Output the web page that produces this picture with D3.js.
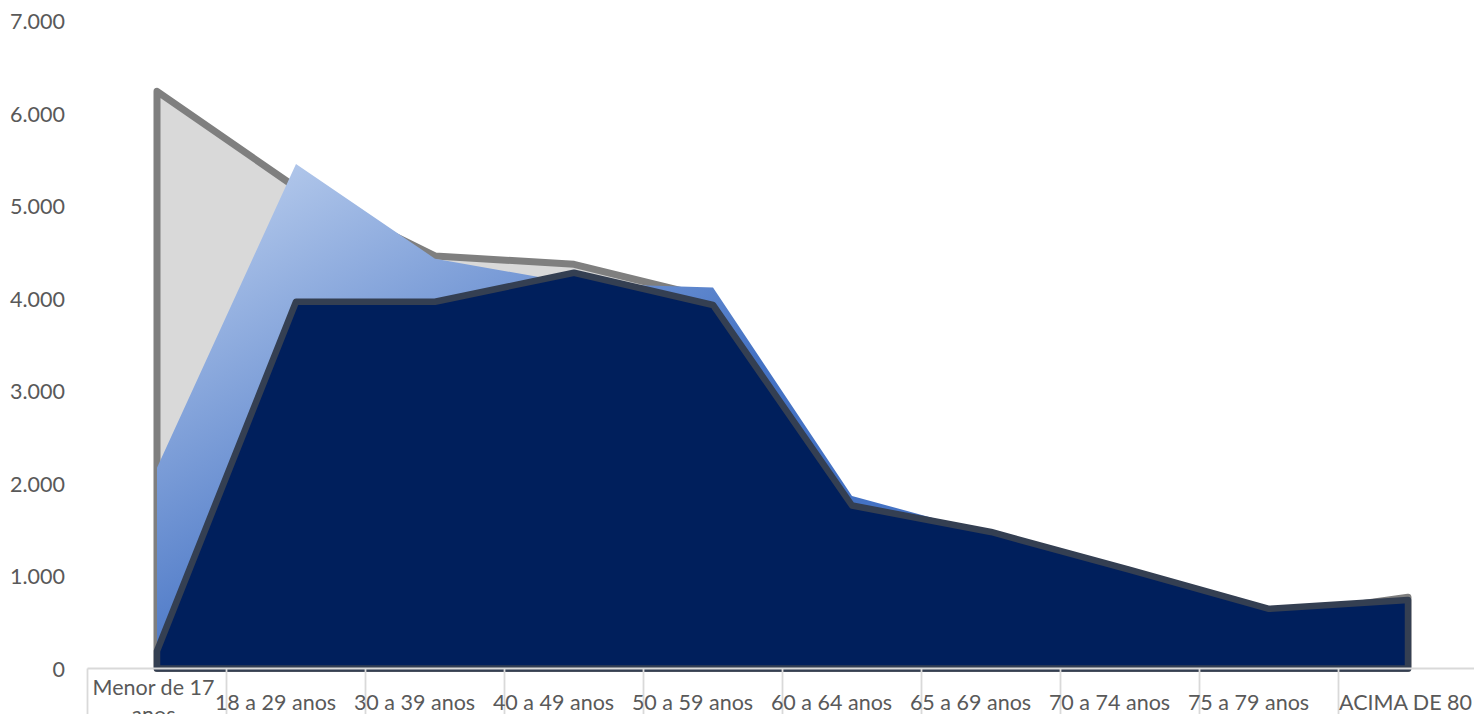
<!DOCTYPE html>
<html>
<head>
<meta charset="utf-8">
<script src="https://cdn.jsdelivr.net/npm/d3@7"></script>
<style>
  html, body { margin: 0; padding: 0; background: #fff; overflow: hidden; }
  svg { display: block; }
  text { font-family: Lato, "Open Sans", sans-serif; fill: #595959; }
</style>
</head>
<body>
<svg id="chart" width="1474" height="714"></svg>
<script>
// ---- data ----
const categories = ["Menor de 17 anos", "18 a 29 anos", "30 a 39 anos", "40 a 49 anos", "50 a 59 anos",
                    "60 a 64 anos", "65 a 69 anos", "70 a 74 anos", "75 a 79 anos", "ACIMA DE 80"];
const seriesGray = [6240, 5200, 4460, 4370, 4000, 1750, 1450, 1040, 560, 770];
const seriesBlue = [2170, 5455, 4430, 4165, 4118, 1866, 1455, 1040, 620, 700];
const seriesDark = [190, 3965, 3965, 4278, 3930, 1762, 1476, 1065, 645, 740];
const yTicks = [0, 1000, 2000, 3000, 4000, 5000, 6000, 7000];

// ---- layout ----
const W = 1474, H = 714;
const svg = d3.select("#chart");
const x = d3.scaleBand().domain(categories).range([87.5, 1477.5]).paddingInner(0).paddingOuter(0);
const y = d3.scaleLinear().domain([0, 7000]).range([668.5, 21]);
const cx = c => x(c) + x.bandwidth() / 2;

const fmt = d3.formatLocale({ decimal: ",", thousands: ".", grouping: [3], currency: ["", ""] }).format(",");

// gradient for blue series
const defs = svg.append("defs");
const grad = defs.append("linearGradient").attr("id", "blueGrad")
  .attr("gradientUnits", "userSpaceOnUse")
  .attr("x1", 297).attr("y1", 160).attr("x2", 297 + 0.5 * 400).attr("y2", 160 + 0.87 * 400);
grad.append("stop").attr("offset", 0).attr("stop-color", "#b0c6ea");
grad.append("stop").attr("offset", 1).attr("stop-color", "#4472c4");

const area = d3.area()
  .x((d, i) => cx(categories[i]))
  .y0(y(0))
  .y1(d => y(d));

const plot = svg.append("g");

plot.append("path").datum(seriesGray)
  .attr("d", d => area(d))
  .attr("fill", "#d9d9d9")
  .attr("stroke", "#7f7f7f").attr("stroke-width", 7)
  .attr("stroke-linejoin", "round");

plot.append("path").datum(seriesBlue)
  .attr("d", d => area(d))
  .attr("fill", "url(#blueGrad)")
  .attr("stroke", "none");

plot.append("path").datum(seriesDark)
  .attr("d", d => area(d))
  .attr("fill", "#001f5c")
  .attr("stroke", "#343f52").attr("stroke-width", 6.5)
  .attr("stroke-linejoin", "round");

// ---- x axis ----
const xAxisG = svg.append("g").attr("transform", `translate(0,${y(0)})`);
xAxisG.append("line")
  .attr("x1", 87.5).attr("x2", W).attr("y1", 0).attr("y2", 0)
  .attr("stroke", "#d9d9d9").attr("stroke-width", 2);
const boundaries = categories.map(c => x(c));
xAxisG.selectAll("line.tick").data(boundaries).enter().append("line")
  .attr("class", "tick")
  .attr("x1", d => d).attr("x2", d => d)
  .attr("y1", 0).attr("y2", H - y(0) + 2)
  .attr("stroke", "#d9d9d9").attr("stroke-width", 1.8);

// labels via d3 axis on a point scale at band centers
const xp = d3.scalePoint().domain(categories).range([cx(categories[0]), cx(categories[categories.length - 1])]);
const labAxis = d3.axisBottom(xp).tickSize(0).tickFormat("");
const labG = svg.append("g").attr("transform", `translate(0,${y(0)})`).call(labAxis);
labG.select(".domain").remove();
const nCat = categories.length;
labG.selectAll(".tick").each(function(d, i) {
  const g = d3.select(this);
  g.select("text").remove();
  const t = g.append("text").attr("text-anchor", "middle").style("font-size", "21.5px");
  if (i === 0) {
    t.append("tspan").attr("x", -4).attr("y", 26.5).text("Menor de 17");
    t.append("tspan").attr("x", -4).attr("y", 53).text("anos");
  } else if (i === nCat - 1) {
    t.attr("x", -3).attr("y", 41.5).text(d);
  } else {
    t.attr("x", -21).attr("y", 41.5).text(d);
  }
});

// ---- y axis ----
const yAxis = d3.axisLeft(y).tickValues(yTicks).tickSize(0).tickPadding(0).tickFormat(fmt);
const yG = svg.append("g").attr("transform", "translate(65,0)").call(yAxis);
yG.select(".domain").remove();
yG.selectAll("text")
  .attr("dy", "0.35em")
  .style("font-size", "21.5px")
  .style("font-family", "Lato, 'Open Sans', sans-serif")
  .attr("fill", "#595959");
</script>
</body>
</html>
